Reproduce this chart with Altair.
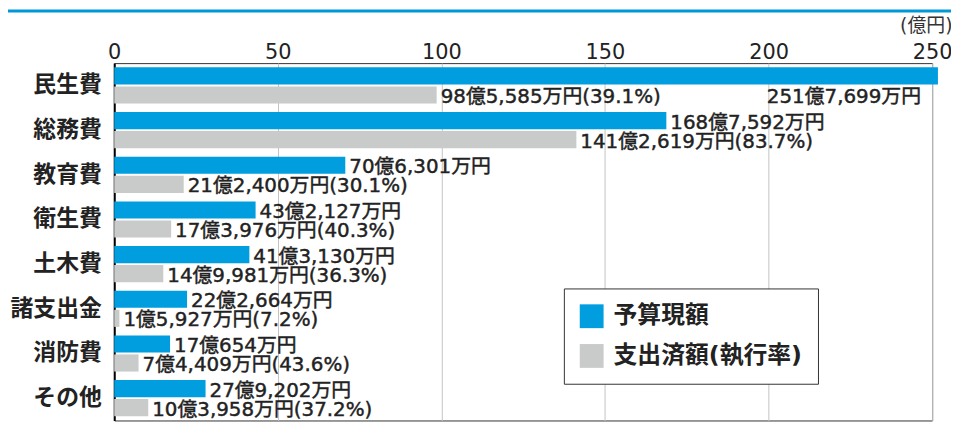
import altair as alt
import pandas as pd

categories = ["民生費", "総務費", "教育費", "衛生費", "土木費", "諸支出金", "消防費", "その他"]
budget_man = [2517699, 1687592, 706301, 432127, 413130, 222664, 170654, 279202]
spent_man = [985585, 1412619, 212400, 173976, 149981, 15927, 74409, 103958]
rates = [39.1, 83.7, 30.1, 40.3, 36.3, 7.2, 43.6, 37.2]
series = ["予算現額", "支出済額(執行率)"]
colors = ["#009ddf", "#c9caca"]
x_ticks = [0, 50, 100, 150, 200, 250]
unit_label = "(億円)"

FONT = "DejaVu Sans, Noto Sans CJK JP, sans-serif"


def fmt(man):
    oku, rest = divmod(man, 10000)
    return f"{oku}億{rest:,}万円"


rows = []
for c, b, s, r in zip(categories, budget_man, spent_man, rates):
    rows.append(dict(cat=c, series=series[0], value=b / 10000, label=fmt(b)))
    rows.append(dict(cat=c, series=series[1], value=s / 10000, label=f"{fmt(s)}({r}%)"))
df = pd.DataFrame(rows)

y_enc = alt.Y(
    "cat:N",
    sort=categories,
    scale=alt.Scale(range=[0, 360], paddingInner=0.19, paddingOuter=0.095),
    axis=alt.Axis(
        title=None,
        labelFont=FONT,
        labelFontSize=23,
        labelFontWeight="bold",
        labelColor="#222",
        labelPadding=13,
        ticks=False,
        domainColor="#000",
        domainWidth=2,
        grid=False,
    ),
)
yoff_enc = alt.YOffset("off:N", sort=series, scale=alt.Scale(paddingInner=0.1, paddingOuter=0))
x_enc = alt.X(
    "value:Q",
    scale=alt.Scale(domain=[0, 250], nice=False),
    axis=alt.Axis(
        orient="top",
        values=x_ticks,
        title=unit_label,
        titleFont=FONT,
        titleFontSize=19,
        titleFontWeight="normal",
        titleColor="#333",
        titleX=844,
        titleY=-38,
        titleAlign="right",
        titleBaseline="middle",
        titleAngle=0,
        labelFont=FONT,
        labelFontSize=21,
        labelColor="#222",
        labelBaseline="alphabetic",
        labelPadding=5,
        tickSize=0,
        ticks=False,
        domain=False,
        grid=True,
        gridColor="#c4c4c4",
        gridWidth=1,
        labelFlush=False,
    ),
)

base = alt.Chart(df).transform_calculate(off="datum.series")

bars = base.mark_bar(clip=False).encode(
    y=y_enc,
    yOffset=yoff_enc,
    x=x_enc,
    color=alt.Color(
        "series:N",
        scale=alt.Scale(domain=series, range=colors),
        legend=alt.Legend(
            title=None,
            orient="none",
            legendX=453,
            legendY=227,
            symbolType="square",
            symbolSize=576,
            symbolStrokeWidth=0,
            symbolOpacity=1,
            labelFont=FONT,
            labelFontSize=24,
            labelFontWeight="bold",
            labelColor="#222",
            labelOffset=10,
            labelLimit=300,
            rowPadding=16,
            padding=16,
            strokeColor="#333",
            fillColor="white",
        ),
    ),
)

text_style = dict(baseline="middle", dy=2, font=FONT, fontSize=20, fontWeight="normal",
                  color="#222", stroke="#222", strokeWidth=0.45)

labels_main = (
    base.transform_filter("!(datum.cat == '民生費' && datum.series == '予算現額')")
    .mark_text(align="left", dx=4, **text_style)
    .encode(y=alt.Y("cat:N", sort=categories), yOffset=alt.YOffset("off:N", sort=series),
            x=alt.X("value:Q"), text="label:N")
)

labels_special = (
    alt.Chart(df)
    .transform_filter("datum.cat == '民生費' && datum.series == '予算現額'")
    .transform_calculate(off="'" + series[1] + "'")
    .mark_text(align="right", dx=-17, **text_style)
    .encode(y=alt.Y("cat:N", sort=categories), yOffset=alt.YOffset("off:N", sort=series),
            x=alt.X("value:Q"), text="label:N")
)

top_line = (
    alt.Chart(pd.DataFrame({"k": [0]}))
    .mark_rule(color="#0098d8", strokeWidth=3)
    .encode(x=alt.value(-107), x2=alt.value(843), y=alt.value(-52.5))
)

chart = (
    alt.layer(bars, labels_main, labels_special, top_line)
    .properties(
        width=824,
        height=360,
        padding={"left": 107, "top": 54, "right": 19, "bottom": 0},
        autosize=alt.AutoSizeParams(type="none"),
    )
    .configure_view(stroke="#333", strokeWidth=1)
)

chart.save("out.html", embed_options={"renderer": "svg", "actions": False})
